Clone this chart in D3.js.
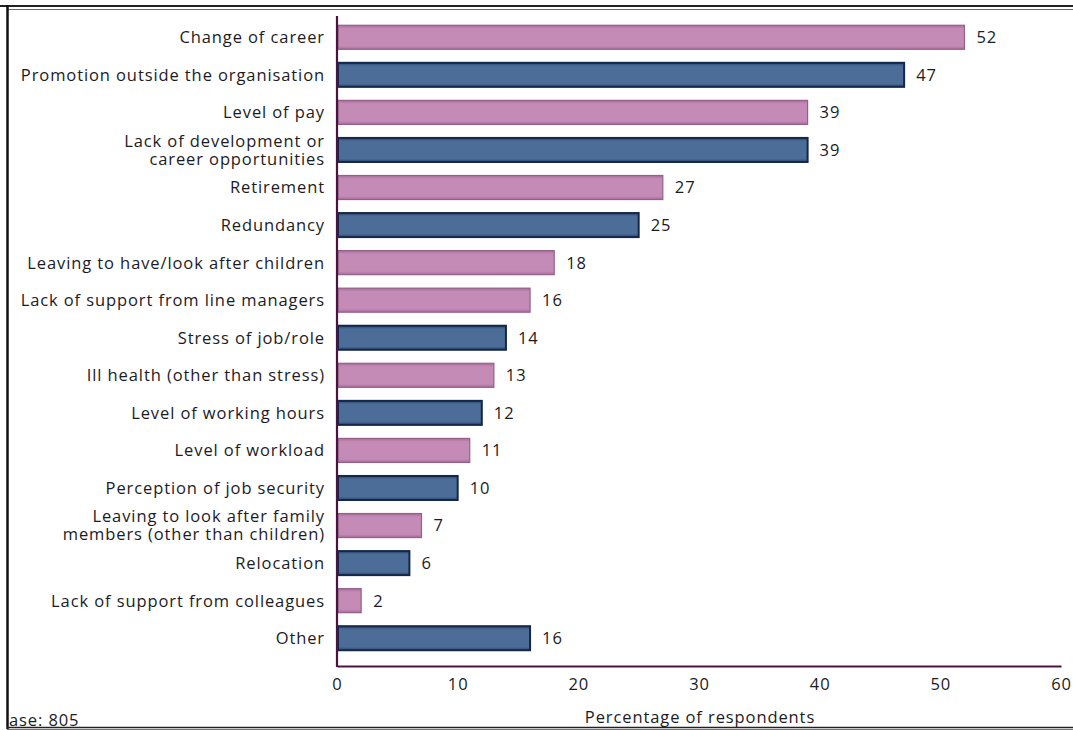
<!DOCTYPE html>
<html>
<head>
<meta charset="utf-8">
<script src="https://cdn.jsdelivr.net/npm/d3@7"></script>
<style>
  html, body { margin: 0; padding: 0; background: #fff; }
  svg { display: block; }
  text { font-family: "Open Sans", "Noto Sans", sans-serif; fill: #1b1b24; letter-spacing: 0.9px; }
</style>
</head>
<body>
<svg id="chart" width="1073" height="730"></svg>
<script>
// Reasons for leaving, in display order (top to bottom)
const categories = [
  "Change of career",
  "Promotion outside the organisation",
  "Level of pay",
  "Lack of development or|career opportunities",
  "Retirement",
  "Redundancy",
  "Leaving to have/look after children",
  "Lack of support from line managers",
  "Stress of job/role",
  "Ill health (other than stress)",
  "Level of working hours",
  "Level of workload",
  "Perception of job security",
  "Leaving to look after family|members (other than children)",
  "Relocation",
  "Lack of support from colleagues",
  "Other"
];
const values = [52, 47, 39, 39, 27, 25, 18, 16, 14, 13, 12, 11, 10, 7, 6, 2, 16];
// Bar colour group per row: "p" = pink, "b" = blue
const groups = ["p", "b", "p", "b", "p", "b", "p", "p", "b", "p", "b", "p", "b", "p", "b", "p", "b"];
const xTicks = [0, 10, 20, 30, 40, 50, 60];
const xTitle = "Percentage of respondents";
const baseNote = "ase: 805";

const svg = d3.select("#chart");
const W = 1073, H = 730;
const FS = 16.5;

const palette = {
  p: { fill: "#c48bb6", stroke: "#94608a", edge: "#a86c9c" },
  b: { fill: "#4b6d97", stroke: "#13274a", edge: "#2c4770" }
};

// gradients give the bars their slightly bevelled look
const defs = svg.append("defs");
Object.entries(palette).forEach(([k, c]) => {
  const g = defs.append("linearGradient")
    .attr("id", "grad-" + k).attr("x1", 0).attr("y1", 0).attr("x2", 0).attr("y2", 1);
  g.append("stop").attr("offset", "0%").attr("stop-color", c.edge);
  g.append("stop").attr("offset", "14%").attr("stop-color", c.fill);
  g.append("stop").attr("offset", "86%").attr("stop-color", c.fill);
  g.append("stop").attr("offset", "100%").attr("stop-color", c.edge);
});

const x = d3.scaleLinear().domain([0, 60]).range([337, 1061]);
const y = d3.scaleBand().domain(categories).range([18.5, 657])
  .paddingInner(0.36).paddingOuter(0.18);

// bars
svg.append("g").selectAll("rect")
  .data(categories)
  .join("rect")
  .attr("x", x(0) + 1)
  .attr("y", d => y(d))
  .attr("width", (d, i) => x(values[i]) - x(0) - 1)
  .attr("height", y.bandwidth())
  .attr("fill", (d, i) => `url(#grad-${groups[i]})`)
  .attr("stroke", (d, i) => palette[groups[i]].stroke)
  .attr("stroke-width", (d, i) => groups[i] === "b" ? 2 : 1.2);

// value labels
svg.append("g").selectAll("text")
  .data(categories)
  .join("text")
  .attr("x", (d, i) => x(values[i]) + 12)
  .attr("y", d => y(d) + y.bandwidth() / 2)
  .attr("dy", "0.36em")
  .attr("font-size", FS)
  .text((d, i) => values[i]);

// category labels (| marks a line break)
const labels = svg.append("g").selectAll("text")
  .data(categories)
  .join("text")
  .attr("text-anchor", "end")
  .attr("font-size", FS)
  .attr("x", 325)
  .attr("y", d => y(d) + y.bandwidth() / 2);
labels.each(function (d) {
  const lines = d.split("|");
  const t = d3.select(this);
  const lh = 18;
  lines.forEach((ln, j) => {
    t.append("tspan")
      .attr("x", 325)
      .attr("y", y(d) + y.bandwidth() / 2 + (j - (lines.length - 1) / 2) * lh)
      .attr("dy", "0.36em")
      .text(ln);
  });
});

// axes
const axisColor = "#4a1440";
const xAxis = d3.axisBottom(x).tickValues(xTicks).tickSize(0).tickPadding(12);
const gx = svg.append("g").attr("transform", "translate(0,666)").call(xAxis);
gx.select(".domain").attr("stroke", axisColor).attr("stroke-width", 2.2);
gx.selectAll("text").attr("font-size", FS)
  .attr("font-family", "\"Open Sans\", \"Noto Sans\", sans-serif").attr("fill", "#1b1b24");

svg.append("line")
  .attr("x1", x(0)).attr("x2", x(0)).attr("y1", 16).attr("y2", 667)
  .attr("stroke", axisColor).attr("stroke-width", 2.2);

svg.append("text")
  .attr("x", 700).attr("y", 723)
  .attr("text-anchor", "middle").attr("font-size", FS)
  .text(xTitle);

svg.append("text")
  .attr("x", 9).attr("y", 726)
  .attr("font-size", FS)
  .attr("letter-spacing", "1.4px")
  .text(baseNote);

// frame
svg.append("line").attr("x1", 0).attr("x2", W).attr("y1", 6).attr("y2", 6)
  .attr("stroke", "#222").attr("stroke-width", 2);
svg.append("line").attr("x1", 7).attr("x2", W).attr("y1", 9.5).attr("y2", 9.5)
  .attr("stroke", "#666").attr("stroke-width", 1);
svg.append("line").attr("x1", 7.5).attr("x2", 7.5).attr("y1", 5).attr("y2", 729)
  .attr("stroke", "#111").attr("stroke-width", 2.5);
svg.append("line").attr("x1", 7).attr("x2", W).attr("y1", 727.5).attr("y2", 727.5)
  .attr("stroke", "#222").attr("stroke-width", 1.5);
svg.append("line").attr("x1", 7).attr("x2", W).attr("y1", 729.5).attr("y2", 729.5)
  .attr("stroke", "#777").attr("stroke-width", 1);
</script>
</body>
</html>
